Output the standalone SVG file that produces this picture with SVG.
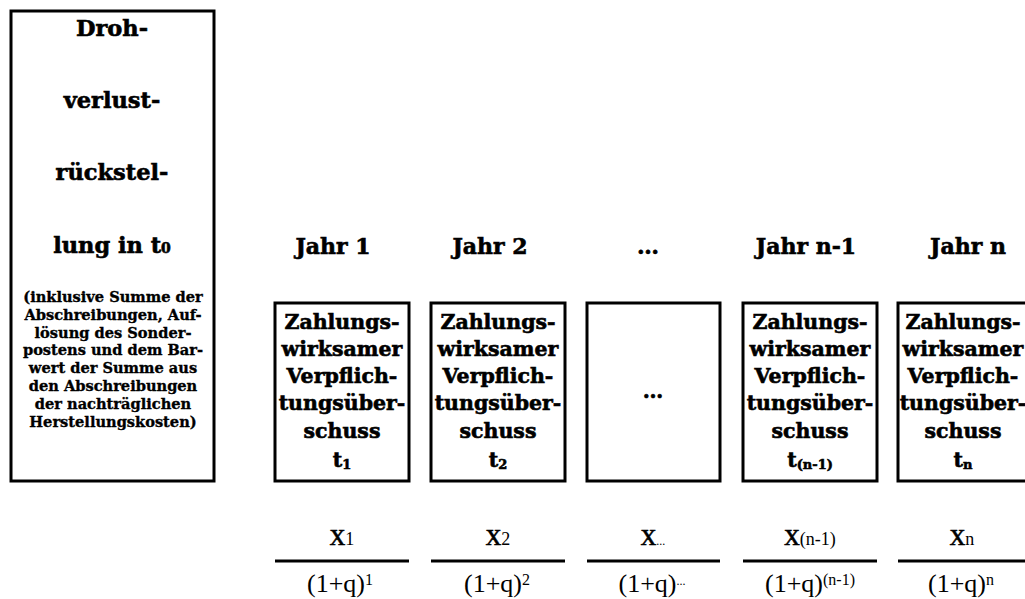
<svg xmlns="http://www.w3.org/2000/svg" width="1025" height="599" viewBox="0 0 1025 599">
<style>
.box{fill:#fff;stroke:#000;stroke-width:3}
.b{font-family:"DejaVu Serif","Liberation Serif",serif;font-weight:bold;fill:#000;stroke:#000;stroke-width:0.6;text-anchor:middle}
.t1{font-size:22.5px}
.sm{font-size:14.6px;stroke-width:0.35}
.yr{font-size:22px}
.bx{font-size:20.5px}
.m{font-family:"Liberation Serif","Times New Roman",serif;fill:#000;text-anchor:middle}
.num{font-size:31px;stroke:#000;stroke-width:0.5}
.num tspan{stroke-width:0}
.den{font-size:26px}
.fl{stroke:#000;stroke-width:3}
</style>
<rect width="1025" height="599" fill="#fff"/>
<g id="left">
<rect class="box" x="11" y="11" width="203" height="470"/>
<text class="b t1" x="112" y="36">Droh-</text>
<text class="b t1" x="112" y="108">verlust-</text>
<text class="b t1" x="112" y="180">rückstel-</text>
<text class="b t1" x="112" y="253">lung in t<tspan font-size="14px">0</tspan></text>
<text class="b sm" x="113" y="302">(inklusive Summe der</text>
<text class="b sm" x="113" y="320">Abschreibungen, Auf-</text>
<text class="b sm" x="113" y="338">lösung des Sonder-</text>
<text class="b sm" x="113" y="355">postens und dem Bar-</text>
<text class="b sm" x="113" y="373">wert der Summe aus</text>
<text class="b sm" x="113" y="391">den Abschreibungen</text>
<text class="b sm" x="113" y="409">der nachträglichen</text>
<text class="b sm" x="113" y="427">Herstellungskosten)</text>
</g>
<g id="years">
<text class="b yr" x="333" y="254">Jahr 1</text>
<text class="b yr" x="490" y="254">Jahr 2</text>
<text class="b yr" x="648" y="254">…</text>
<text class="b yr" x="806" y="254">Jahr n-1</text>
<text class="b yr" x="968" y="254">Jahr n</text>
</g>
<g id="box1">
<rect class="box" x="275" y="303" width="134" height="178"/>
<text class="b bx" x="342" y="329">Zahlungs-</text>
<text class="b bx" x="342" y="356">wirksamer</text>
<text class="b bx" x="342" y="383">Verpflich-</text>
<text class="b bx" x="342" y="410">tungsüber-</text>
<text class="b bx" x="342" y="438">schuss</text>
<text class="b bx" x="342" y="467">t<tspan font-size="13px" dy="2">1</tspan></text>
</g>
<g id="box2">
<rect class="box" x="431" y="303" width="134" height="178"/>
<text class="b bx" x="498" y="329">Zahlungs-</text>
<text class="b bx" x="498" y="356">wirksamer</text>
<text class="b bx" x="498" y="383">Verpflich-</text>
<text class="b bx" x="498" y="410">tungsüber-</text>
<text class="b bx" x="498" y="438">schuss</text>
<text class="b bx" x="498" y="467">t<tspan font-size="13px" dy="2">2</tspan></text>
</g>
<g id="box3">
<rect class="box" x="587" y="303" width="133" height="178"/>
<text class="b bx" x="653" y="398">…</text>
</g>
<g id="box4">
<rect class="box" x="743" y="303" width="134" height="178"/>
<text class="b bx" x="810" y="329">Zahlungs-</text>
<text class="b bx" x="810" y="356">wirksamer</text>
<text class="b bx" x="810" y="383">Verpflich-</text>
<text class="b bx" x="810" y="410">tungsüber-</text>
<text class="b bx" x="810" y="438">schuss</text>
<text class="b bx" x="810" y="467">t<tspan font-size="13px" dy="2">(n-1)</tspan></text>
</g>
<g id="box5">
<rect class="box" x="898" y="303" width="140" height="178"/>
<text class="b bx" x="963" y="329">Zahlungs-</text>
<text class="b bx" x="963" y="356">wirksamer</text>
<text class="b bx" x="963" y="383">Verpflich-</text>
<text class="b bx" x="963" y="410">tungsüber-</text>
<text class="b bx" x="963" y="438">schuss</text>
<text class="b bx" x="963" y="467">t<tspan font-size="13px" dy="2">n</tspan></text>
</g>
<g id="fractions">
<line class="fl" x1="275" y1="561" x2="409" y2="561"/>
<line class="fl" x1="431" y1="561" x2="565" y2="561"/>
<line class="fl" x1="587" y1="561" x2="720" y2="561"/>
<line class="fl" x1="743" y1="561" x2="877" y2="561"/>
<line class="fl" x1="898" y1="561" x2="1025" y2="561"/>
<text class="m num" x="342" y="545">x<tspan font-size="18px">1</tspan></text>
<text class="m num" x="498" y="545">x<tspan font-size="18px">2</tspan></text>
<text class="m num" x="653" y="545">x<tspan font-size="12px">...</tspan></text>
<text class="m num" x="810" y="545">x<tspan font-size="18px">(n-1)</tspan></text>
<text class="m num" x="962" y="545">x<tspan font-size="18px">n</tspan></text>
<text class="m den" x="340" y="592">(1+q)<tspan font-size="16px" dy="-7">1</tspan></text>
<text class="m den" x="497" y="592">(1+q)<tspan font-size="16px" dy="-7">2</tspan></text>
<text class="m den" x="652" y="592">(1+q)<tspan font-size="12px" dy="-7">...</tspan></text>
<text class="m den" x="810" y="592">(1+q)<tspan font-size="16px" dy="-7">(n-1)</tspan></text>
<text class="m den" x="961" y="592">(1+q)<tspan font-size="16px" dy="-7">n</tspan></text>
</g>
</svg>
